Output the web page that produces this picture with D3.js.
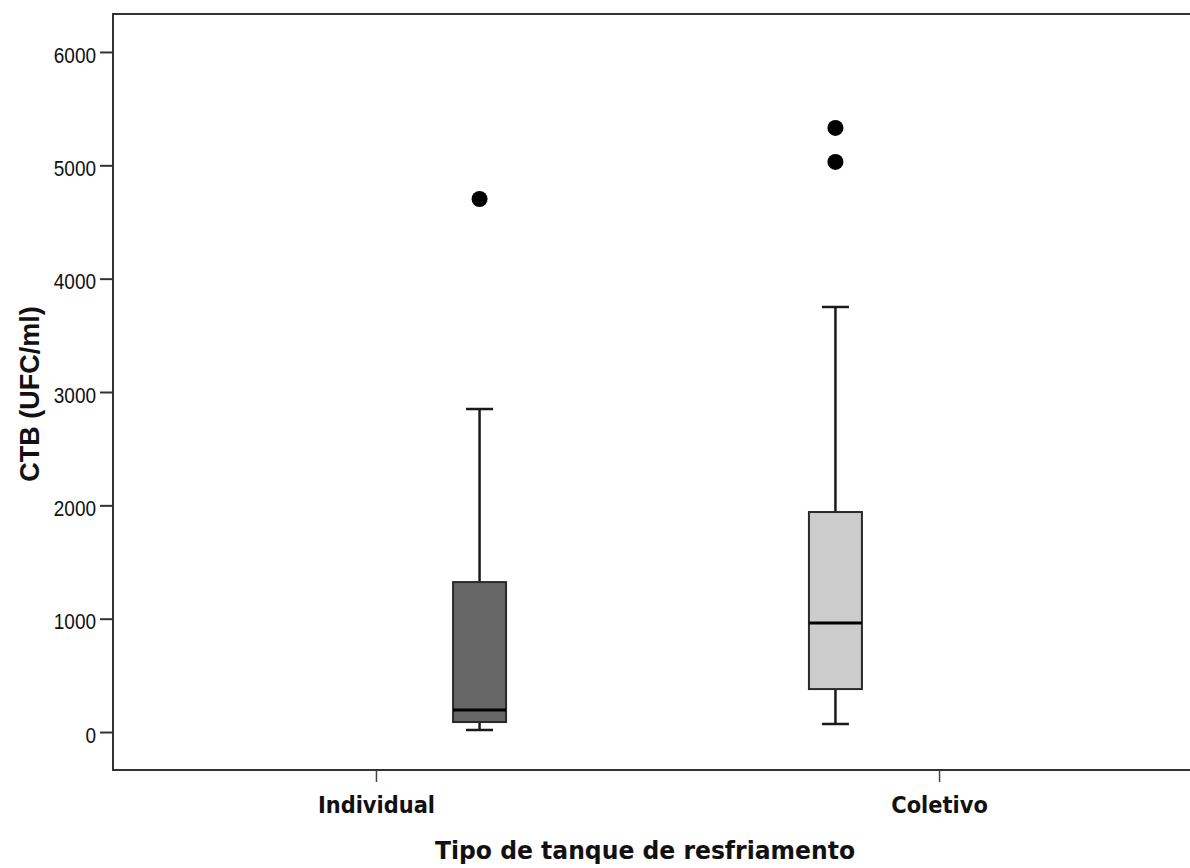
<!DOCTYPE html>
<html>
<head>
<meta charset="utf-8">
<script src="https://cdn.jsdelivr.net/npm/d3@7"></script>
<style>
  body { margin: 0; background: #fff; }
  svg { display: block; }
</style>
</head>
<body>
<div id="root"></div>
<script>
// Dados (CTB em UFC/ml)
const categories = ["Individual", "Coletivo"];
const whiskerLow = [18, 71];
const q1 = [88, 379];
const medians = [194, 962];
const q3 = [1323, 1941];
const whiskerHigh = [2850, 3750];
const outliers = [[4703], [5030, 5330]];
const boxFills = ["#666666", "#cccccc"];
const yTicks = [0, 1000, 2000, 3000, 4000, 5000, 6000];

const boxes = categories.map((c, i) => ({
  cat: c, lo: whiskerLow[i], q1: q1[i], med: medians[i], q3: q3[i],
  hi: whiskerHigh[i], out: outliers[i], fill: boxFills[i]
}));

const W = 1190, H = 868;
const margin = { left: 113, top: 14, right: -12, bottom: 98 };
const width = W - margin.left - margin.right;
const height = H - margin.top - margin.bottom;

const svg = d3.select("#root")
  .append("svg")
    .attr("width", W)
    .attr("height", H);

const g = svg.append("g")
  .attr("transform", `translate(${margin.left}, ${margin.top})`);

const xScale = d3.scalePoint()
  .domain(categories)
  .range([0, width])
  .padding(0.467);

// as caixas ficam deslocadas para o centro em relação aos ticks
const boxScale = d3.scalePoint()
  .domain(categories)
  .range([0, width])
  .padding(1.03);

const yScale = d3.scaleLinear()
  .domain([-335, 6335])
  .range([height, 0]);

const boxW = 53;
const capW = 27;
const stroke = "#1a1a1a";

// Eixos
const yAxis = g.append("g")
  .call(d3.axisLeft(yScale).tickValues(yTicks).tickSize(13).tickPadding(4).tickFormat(d3.format("d")));
yAxis.select(".domain").remove();
yAxis.selectAll(".tick line").attr("stroke", "#333").attr("stroke-width", 2);
yAxis.selectAll(".tick text")
  .attr("font-family", "Liberation Sans, Arial, sans-serif")
  .attr("font-size", 19)
  .attr("fill", "#111")
  .attr("dy", null)
  .attr("dominant-baseline", "central")
  .attr("transform", "translate(0, 2) scale(1, 1.18)");

const xAxis = g.append("g")
  .attr("transform", `translate(0, ${height})`)
  .call(d3.axisBottom(xScale).tickSize(12).tickPadding(10));
xAxis.select(".domain").remove();
xAxis.selectAll(".tick line").attr("stroke", "#444").attr("stroke-width", 1.5);
xAxis.selectAll(".tick text")
  .attr("font-family", "DejaVu Sans, sans-serif")
  .attr("font-weight", "bold")
  .attr("font-size", 21)
  .attr("fill", "#111")
  .attr("dy", null)
  .attr("y", 38)
  .attr("transform", "scale(1, 1.12)");

// Moldura
g.append("rect")
  .attr("x", 0)
  .attr("y", 0)
  .attr("width", width)
  .attr("height", height)
  .attr("fill", "none")
  .attr("stroke", "#333")
  .attr("stroke-width", 2);

// Boxplots
const bp = g.selectAll("g.box")
  .data(boxes)
  .enter()
  .append("g")
    .attr("class", "box")
    .attr("transform", d => `translate(${boxScale(d.cat)}, 0)`);

bp.append("line")
  .attr("x1", 0).attr("x2", 0)
  .attr("y1", d => yScale(d.q3)).attr("y2", d => yScale(d.hi))
  .attr("stroke", stroke).attr("stroke-width", 2.5);
bp.append("line")
  .attr("x1", 0).attr("x2", 0)
  .attr("y1", d => yScale(d.q1)).attr("y2", d => yScale(d.lo))
  .attr("stroke", stroke).attr("stroke-width", 2.5);
bp.append("line")
  .attr("x1", -capW / 2).attr("x2", capW / 2)
  .attr("y1", d => yScale(d.hi)).attr("y2", d => yScale(d.hi))
  .attr("stroke", stroke).attr("stroke-width", 2.5);
bp.append("line")
  .attr("x1", -capW / 2).attr("x2", capW / 2)
  .attr("y1", d => yScale(d.lo)).attr("y2", d => yScale(d.lo))
  .attr("stroke", stroke).attr("stroke-width", 2.5);

bp.append("rect")
  .attr("x", -boxW / 2)
  .attr("width", boxW)
  .attr("y", d => yScale(d.q3))
  .attr("height", d => yScale(d.q1) - yScale(d.q3))
  .attr("fill", d => d.fill)
  .attr("stroke", "#2a2a2a")
  .attr("stroke-width", 2);

bp.append("line")
  .attr("x1", -boxW / 2).attr("x2", boxW / 2)
  .attr("y1", d => yScale(d.med)).attr("y2", d => yScale(d.med))
  .attr("stroke", "#000").attr("stroke-width", 3);

bp.selectAll("circle")
  .data(d => d.out)
  .enter()
  .append("circle")
    .attr("cx", 0)
    .attr("cy", d => yScale(d))
    .attr("r", 8)
    .attr("fill", "#000");

// Títulos dos eixos
svg.append("text")
  .text("Tipo de tanque de resfriamento")
  .attr("transform", "translate(645, 859) scale(1, 1.08)")
  .attr("text-anchor", "middle")
  .attr("font-family", "DejaVu Sans, sans-serif")
  .attr("font-weight", "bold")
  .attr("font-size", 23.5)
  .attr("fill", "#111");

svg.append("text")
  .text("CTB (UFC/ml)")
  .attr("transform", "translate(39, 394) rotate(-90)")
  .attr("text-anchor", "middle")
  .attr("font-family", "Liberation Sans, Arial, sans-serif")
  .attr("font-weight", "bold")
  .attr("font-size", 27)
  .attr("fill", "#111");
</script>
</body>
</html>
